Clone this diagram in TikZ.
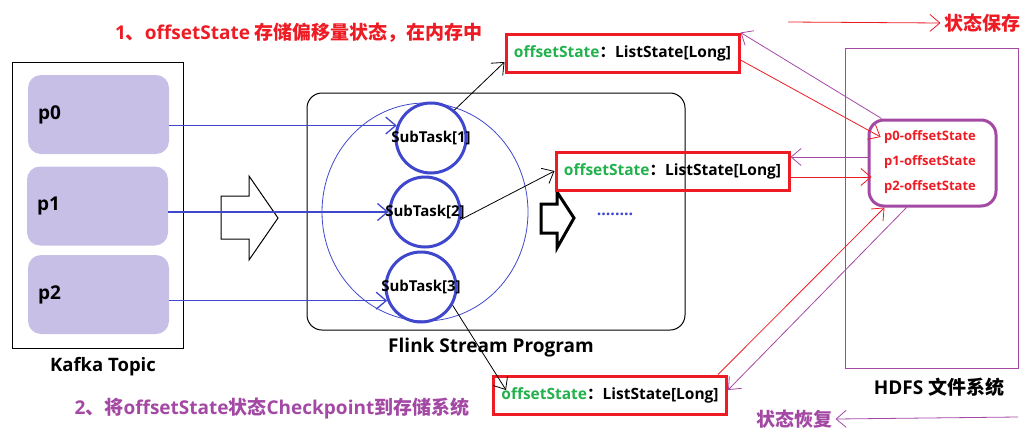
\documentclass[tikz,border=0pt]{standalone}
\usepackage{fontspec}
\usepackage{xcolor}
\usetikzlibrary{arrows.meta,shapes.geometric}
\setmainfont{Open Sans}
\newfontfamily\cjk{Noto Sans CJK SC}
\newcommand\zh[1]{{\cjk #1}}
\newcommand\fsz[1]{\bfseries\fontsize{#1}{#1}\selectfont}
\definecolor{cRed}{RGB}{237,28,36}
\definecolor{cPurple}{RGB}{163,73,164}
\definecolor{cBlue}{RGB}{63,72,204}
\definecolor{cGreen}{RGB}{34,177,76}
\definecolor{cLavender}{RGB}{200,191,231}
\newcommand\statetext{\textcolor{cGreen}{offsetState}\zh{：}ListState[Long]}
\tikzset{
  part/.style={fill=cLavender, rounded corners=13pt, minimum height=79pt, text width=121pt,
    inner sep=10pt, align=left, font=\fsz{19}},
  task/.style={circle, draw=cBlue, line width=3pt, minimum size=70pt, inner sep=0pt},
  tasktext/.style={font=\fsz{15}},
  statebox/.style={draw=cRed, line width=3pt, minimum width=233pt, minimum height=38pt,
    inner sep=2pt, font=\fsz{15.5}},
  tip/.style={-{Straight Barb[length=10pt,width=17pt]}},
  feed/.style={tip, cBlue, line width=1.3pt},
  link/.style={tip, black, line width=0.8pt},
  save/.style={tip, cRed, line width=0.8pt},
  restore/.style={tip, cPurple, line width=0.8pt},
}

\begin{document}
\begin{tikzpicture}[x=1pt,y=-1pt]
    \useasboundingbox (0,0) rectangle (1032,439);

    % kafka side
    \node[draw, line width=1pt, minimum width=171pt, minimum height=286pt] (kafka) at (97.5,205) {};
    \node[part] (p0) at (98.5,114.5) {p0};
    \node[part] (p1) at (97.5,206) {p1};
    \node[part] (p2) at (98.5,294.5) {p2};
    \node[font=\fsz{18.5}] (kafkaname) at (103,367) {Kafka Topic};

    \draw[line width=1pt] (221,196) -- (249,196) -- (249,176) -- (278,218) -- (249,260) -- (249,239) -- (221,239) -- cycle;

    % flink program
    \node[draw, line width=1pt, rounded corners=15pt, minimum width=378pt, minimum height=237pt] (flink) at (496,211.5) {};
    \node[font=\fsz{19}] (flinkname) at (491,348) {Flink Stream Program};
    \node[ellipse, draw=cBlue, line width=0.8pt, minimum width=206pt, minimum height=218pt] (group) at (425,212) {};
    \foreach \i/\x/\y in {1/431/138, 2/425/212, 3/421/287} {
        \node[task] (t\i) at (\x,\y) {};
        \node[tasktext] (l\i) at (t\i) {SubTask[\i]};
    }
    \draw[line width=3pt] (541,204) -- (557,204) -- (557,192) -- (574,218) -- (557,248) -- (557,233) -- (541,233) -- cycle;
    \node[font=\fsz{16}, text=cBlue] (more) at (615,214) {........};

    \draw[feed] (p0.east |- t1.160) -- (t1.160);
    \draw[feed] (p1.east |- t2.west) -- (t2.west);
    \draw[feed] (p2.east |- t3.202) -- (t3.202);

    % states in memory
    \node[statebox] (s1) at (622.5,53) {\statetext};
    \node[statebox] (s2) at (672.5,171) {\statetext};
    \node[statebox] (s3) at (610,395) {\statetext};
    \draw[link] (t1.50) -- ([yshift=-9pt]s1.west);
    \draw[link] (t2.-12) -- (s2.west);
    \draw[link] (t3.-30) -- ([xshift=14pt,yshift=5pt]s3.west);

    % hdfs
    \node[draw=cPurple, line width=1pt, minimum width=173pt, minimum height=320pt] (hdfs) at (931.5,208) {};
    \node[font=\fsz{19}] (hdfsname) at (939,387) {HDFS \zh{文件系统}};
    \node[draw=cPurple, line width=3pt, rounded corners=15pt, minimum width=127pt, minimum height=86pt] (store) at (932.5,163) {};
    \node[font=\fsz{13}, text=cRed] (q0) at (930,137) {p0-offsetState};
    \node[font=\fsz{13}, text=cRed] (q1) at (930,162) {p1-offsetState};
    \node[font=\fsz{13}, text=cRed] (q2) at (930,187) {p2-offsetState};

    \draw[save] ([yshift=-7pt]s1.east) -- (q0.west);
    \draw[restore] ([xshift=14pt]store.north west) -- (s1.north east);
    \draw[restore] ([yshift=6pt]store.west) -- ([yshift=6pt]store.west -| s2.east);
    \draw[save] ([yshift=-6pt]s2.east) -- ([yshift=-6pt,xshift=4pt]s2.east -| store.west);
    \draw[save] ([xshift=-10pt]s3.north east) -- ([xshift=17pt]store.south west);
    \draw[restore] ([xshift=39pt]store.south west) -- ([yshift=5pt]s3.east);

    % legend and notes
    \node[font=\fsz{19}, text=cRed] (legsave) at (982,23) {\zh{状态保存}};
    \coordinate (savefrom) at (788,22);
    \draw[save] (savefrom) -- (legsave.west);
    \node[font=\fsz{19}, text=cPurple] (legrestore) at (794,419) {\zh{状态恢复}};
    \coordinate (restorefrom) at (1018,417);
    \draw[restore] (restorefrom) -- (legrestore.east);

    \node[font=\fsz{19}, text=cRed] (note1) at (299,33) {1\zh{、}offsetState \zh{存储偏移量状态，在内存中}};
    \node[font=\fsz{19}, text=cPurple] (note2) at (272,409) {2\zh{、将}offsetState\zh{状态}Checkpoint\zh{到存储系统}};
\end{tikzpicture}
\end{document}
